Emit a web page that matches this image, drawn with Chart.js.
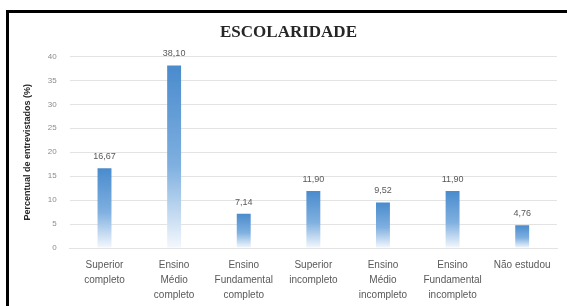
<!DOCTYPE html>
<html>
<head>
<meta charset="utf-8">
<script src="https://cdn.jsdelivr.net/npm/chart.js@4/dist/chart.umd.min.js"></script>
<style>
  html, body { margin: 0; padding: 0; background: #ffffff; overflow: hidden; }
  #wrap { position: relative; width: 567px; height: 306px; }
  #frame { position: absolute; left: 6px; top: 10px; width: 700px; height: 400px; border: 3px solid #000; }
  #myChart { position: absolute; left: 0; top: 0; }
</style>
</head>
<body>
<div id="wrap">
  <div id="frame"></div>
  <canvas id="myChart" width="567" height="306"></canvas>
</div>
<script>
  // data
  const categories = [
    ['Superior', 'completo'],
    ['Ensino', 'Médio', 'completo'],
    ['Ensino', 'Fundamental', 'completo'],
    ['Superior', 'incompleto'],
    ['Ensino', 'Médio', 'incompleto'],
    ['Ensino', 'Fundamental', 'incompleto'],
    ['Não estudou']
  ];
  const percentValues = [16.67, 38.10, 7.14, 11.90, 9.52, 11.90, 4.76];
  const yTicks = [0, 5, 10, 15, 20, 25, 30, 35, 40];

  // bar fill: solid blue on top fading to white at the base
  function barFill(context) {
    const chart = context.chart;
    const area = chart.chartArea;
    if (!area) return '#5b9bd5';
    const yScale = chart.scales.y;
    const v = context.raw;
    const top = yScale.getPixelForValue(v);
    const bottom = yScale.getPixelForValue(0);
    const g = chart.ctx.createLinearGradient(0, top, 0, bottom);
    g.addColorStop(0, '#4a8bcd');
    g.addColorStop(0.55, '#7fb0e0');
    g.addColorStop(1, '#f4f8fd');
    return g;
  }

  // value labels over each bar
  const valueLabels = {
    id: 'valueLabels',
    afterDatasetsDraw(chart) {
      const ctx = chart.ctx;
      const meta = chart.getDatasetMeta(0);
      ctx.save();
      ctx.font = '9px "Liberation Sans", sans-serif';
      ctx.fillStyle = '#595959';
      ctx.textAlign = 'center';
      ctx.textBaseline = 'bottom';
      meta.data.forEach(function (bar, i) {
        const txt = percentValues[i].toFixed(2).replace('.', ',');
        ctx.fillText(txt, bar.x, bar.y - 7);
      });
      ctx.restore();
    }
  };

  const config = {
    type: 'bar',
    data: {
      labels: categories,
      datasets: [{
        label: 'Escolaridade',
        data: percentValues,
        backgroundColor: barFill,
        borderWidth: 0,
        categoryPercentage: 1,
        barPercentage: 0.2
      }]
    },
    options: {
      responsive: false,
      animation: false,
      layout: { padding: { top: 22, left: 20, right: 10, bottom: -7 } },
      scales: {
        y: {
          min: 0,
          max: 40,
          afterBuildTicks: function (axis) {
            axis.ticks = yTicks.map(v => ({ value: v }));
          },
          ticks: {
            color: '#8c8c8c',
            font: { size: 8, family: '"Liberation Sans", sans-serif' },
            padding: 13
          },
          grid: { color: '#e3e3e3', drawTicks: false },
          border: { display: false },
          title: {
            display: true,
            text: 'Percentual de entrevistados (%)',
            color: '#262626',
            font: { size: 9, weight: 'bold', family: '"Liberation Sans", sans-serif' },
            padding: 2
          }
        },
        x: {
          grid: { display: false, drawTicks: false },
          border: { color: '#e3e3e3' },
          ticks: {
            color: '#595959',
            maxRotation: 0,
            autoSkip: false,
            padding: 10,
            font: { size: 10, family: '"Liberation Sans", sans-serif', lineHeight: 1.5 }
          }
        }
      },
      plugins: {
        legend: { display: false },
        tooltip: { enabled: false },
        title: {
          display: true,
          text: 'ESCOLARIDADE',
          color: '#262626',
          font: { size: 17, weight: 'bold', family: '"Liberation Serif", serif' },
          padding: { top: 0, bottom: 14 }
        }
      }
    },
    plugins: [valueLabels]
  };

  new Chart(document.getElementById('myChart'), config);
</script>
</body>
</html>
